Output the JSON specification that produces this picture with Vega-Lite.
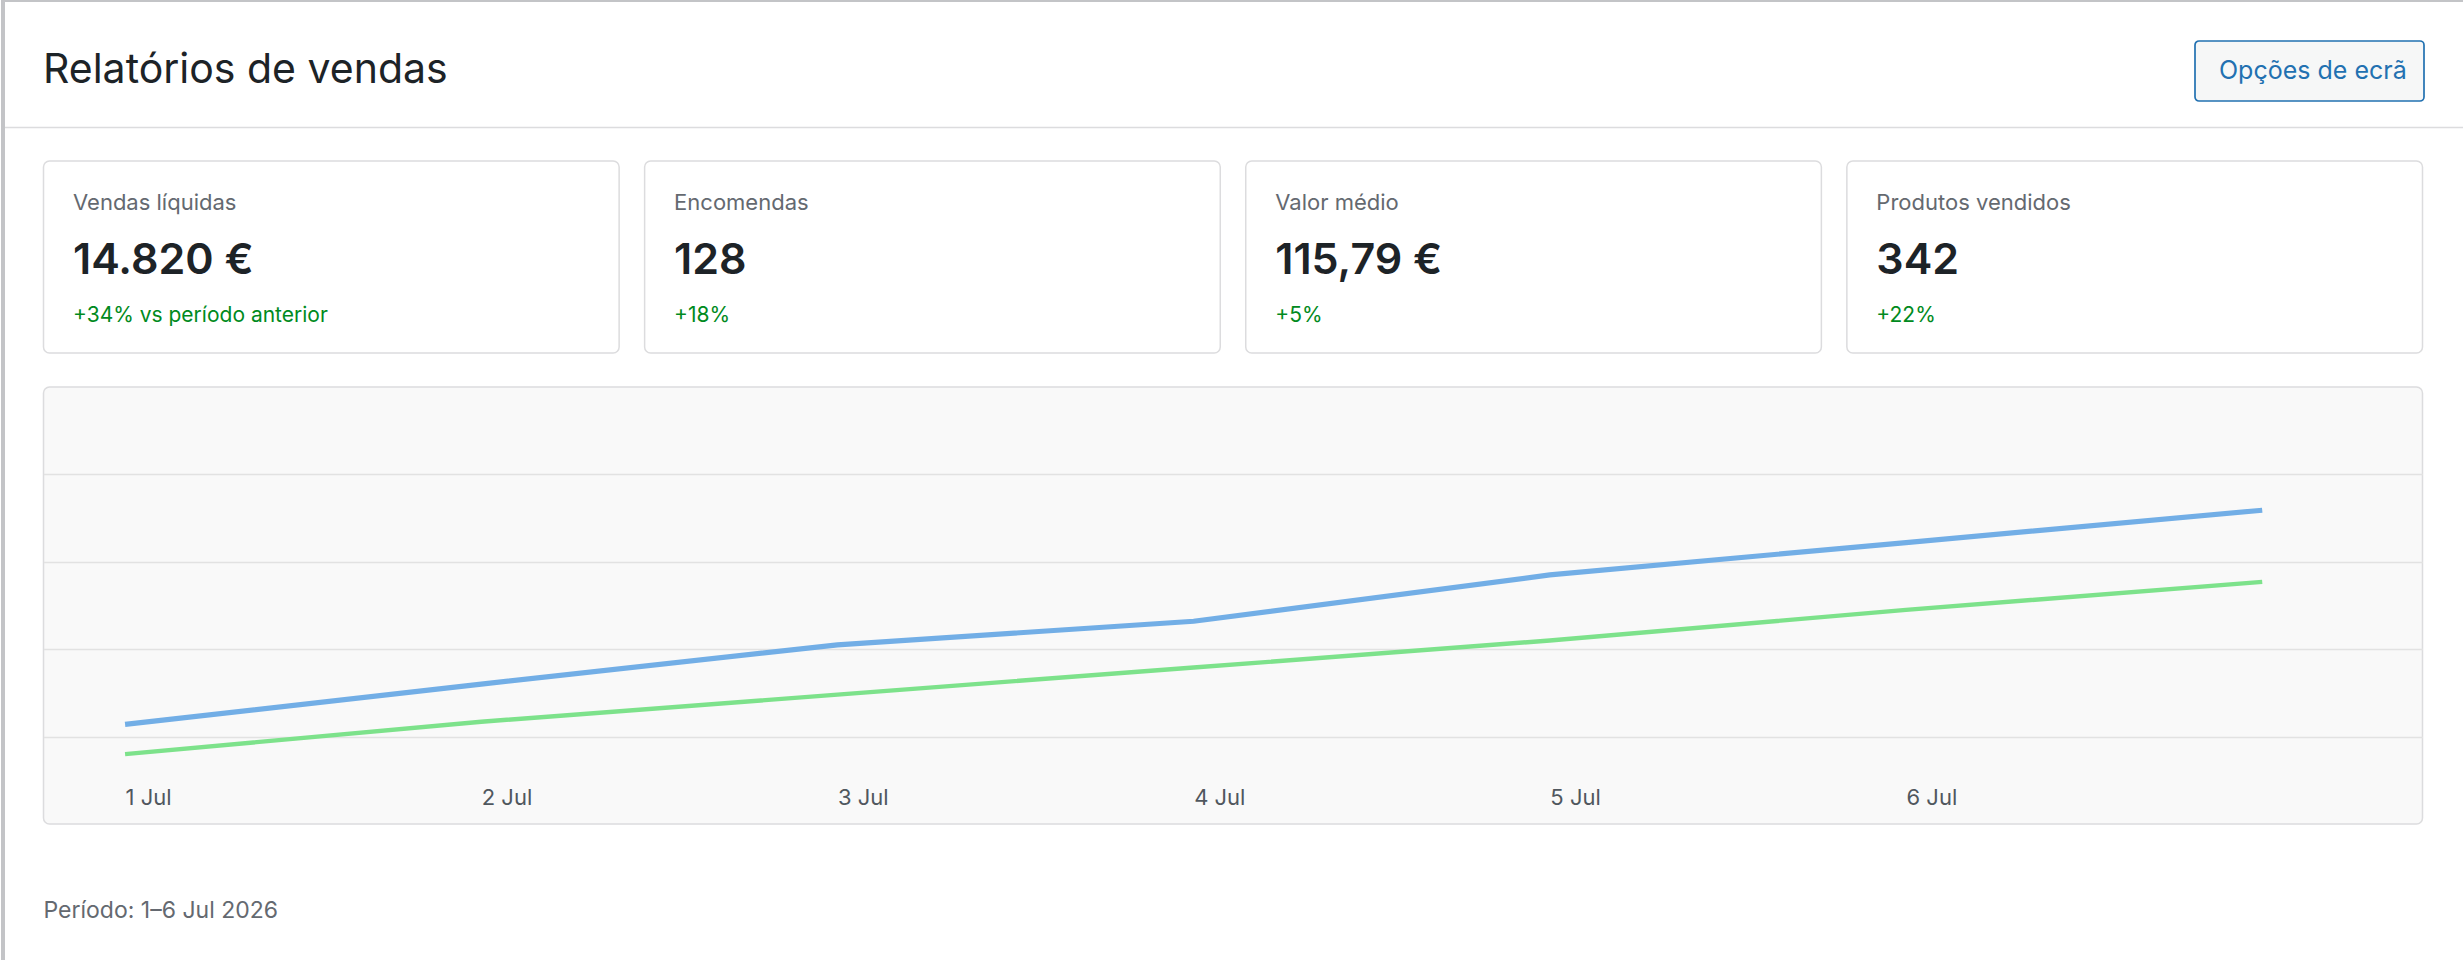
{
  "$schema": "https://vega.github.io/schema/vega-lite/v6.json",
  "description": "Relatórios de vendas: cartões de indicadores e evolução diária",
  "background": "#ffffff",
  "padding": 0,
  "bounds": "flush",
  "spacing": 0,
  "config": {
    "font": "Inter",
    "view": {"stroke": null},
    "legend": {"strokeWidth": 1.7}
  },
  "hconcat": [
    {
      "width": 2,
      "height": 960,
      "data": {"values": [{}]},
      "mark": {"type": "rect", "color": "#c3c4c7"},
      "encoding": {},
      "view": {"fill": "#c3c4c7", "stroke": null}
    },
    {
      "bounds": "flush",
      "spacing": 0,
      "vconcat": [
        {
          "width": 2460,
          "height": 2,
          "data": {"values": [{}]},
          "mark": {"type": "rect", "color": "#c3c4c7"},
          "encoding": {},
          "view": {"fill": "#c3c4c7", "stroke": null}
        },
        {
          "bounds": "flush",
          "spacing": 34,
          "center": true,
          "resolve": {
            "scale": {"color": "independent", "strokeWidth": "independent"},
            "legend": {"color": "independent", "strokeWidth": "independent"}
          },
          "vconcat": [
            {
              "width": 2460,
              "height": 125,
              "view": {"stroke": null},
              "title": {
                "text": "Relatórios de vendas",
                "orient": "top",
                "anchor": "start",
                "frame": "group",
                "offset": -122,
                "dx": 40,
                "baseline": "alphabetic",
                "font": "Inter",
                "fontSize": 41,
                "fontWeight": 400,
                "color": "#1d2327"
              },
              "data": {"values": [{"acao": "Opções de ecrã"}]},
              "mark": {"type": "point", "opacity": 0},
              "encoding": {
                "x": {
                  "datum": 0,
                  "type": "quantitative",
                  "axis": {
                    "labels": false,
                    "ticks": false,
                    "grid": false,
                    "title": null,
                    "domainColor": "#dcdcde",
                    "domainWidth": 1.5
                  }
                },
                "color": {
                  "field": "acao",
                  "type": "nominal",
                  "scale": {"range": ["#2271b1"]},
                  "legend": {
                    "orient": "top-right",
                    "offset": 39,
                    "title": null,
                    "padding": 17,
                    "cornerRadius": 4,
                    "fillColor": "#f6f7f7",
                    "strokeColor": "#2271b1",
                    "symbolSize": 0,
                    "symbolOpacity": 0,
                    "symbolStrokeWidth": 0,
                    "labelOffset": -18,
                    "labelLimit": 0,
                    "labelFont": "Inter",
                    "labelFontSize": 25,
                    "labelColor": "#2271b1"
                  }
                }
              }
            },
            {
              "width": 2379,
              "height": 192,
              "view": {"stroke": null},
              "data": {
                "values": [
                  {"metrica": "Vendas líquidas", "valor": "14.820 €", "variacao": "+34% vs período anterior"},
                  {"metrica": "Encomendas", "valor": "128", "variacao": "+18%"},
                  {"metrica": "Valor médio", "valor": "115,79 €", "variacao": "+5%"},
                  {"metrica": "Produtos vendidos", "valor": "342", "variacao": "+22%"}
                ]
              },
              "encoding": {
                "x": {
                  "field": "metrica",
                  "type": "nominal",
                  "sort": null,
                  "scale": {"paddingInner": 0.0424, "paddingOuter": 0},
                  "axis": null
                }
              },
              "layer": [
                {
                  "mark": {
                    "type": "rect",
                    "fill": "#ffffff",
                    "stroke": "#dcdcde",
                    "strokeWidth": 1.5,
                    "cornerRadius": 6
                  }
                },
                {
                  "mark": {
                    "type": "text",
                    "align": "left",
                    "baseline": "middle",
                    "dx": 29.5,
                    "font": "Inter",
                    "fontSize": 22,
                    "color": "#646970"
                  },
                  "encoding": {
                    "x": {"field": "metrica", "type": "nominal", "sort": null, "bandPosition": 0},
                    "y": {
                      "datum": "rotulo",
                      "type": "nominal",
                      "scale": {"type": "point", "domain": ["rotulo", "valor", "variacao"], "padding": 0.7, "align": 0.53},
                      "axis": null
                    },
                    "text": {"field": "metrica"}
                  }
                },
                {
                  "mark": {
                    "type": "text",
                    "align": "left",
                    "baseline": "middle",
                    "dx": 29.5,
                    "dy": 2,
                    "font": "Inter",
                    "fontSize": 43,
                    "fontWeight": 600,
                    "color": "#1d2327"
                  },
                  "encoding": {
                    "x": {"field": "metrica", "type": "nominal", "sort": null, "bandPosition": 0},
                    "y": {"datum": "valor", "type": "nominal"},
                    "text": {"field": "valor"}
                  }
                },
                {
                  "mark": {
                    "type": "text",
                    "align": "left",
                    "baseline": "middle",
                    "dx": 29.5,
                    "font": "Inter",
                    "fontSize": 21,
                    "color": "#008a20"
                  },
                  "encoding": {
                    "x": {"field": "metrica", "type": "nominal", "sort": null, "bandPosition": 0},
                    "y": {"datum": "variacao", "type": "nominal"},
                    "text": {"field": "variacao"}
                  }
                }
              ]
            },
            {
              "width": 2379,
              "height": 437,
              "view": {"fill": "#f9f9f9", "stroke": "#dcdcde", "strokeWidth": 1.5, "cornerRadius": 6},
              "title": {
                "text": "Período: 1–6 Jul 2026",
                "orient": "bottom",
                "anchor": "start",
                "frame": "group",
                "offset": 93.7,
                "baseline": "alphabetic",
                "font": "Inter",
                "fontSize": 23,
                "fontWeight": 400,
                "color": "#646970"
              },
              "data": {
                "values": [
                  {"dia": 1, "serie": "Período atual", "valor": 1140},
                  {"dia": 2, "serie": "Período atual", "valor": 1600},
                  {"dia": 3, "serie": "Período atual", "valor": 2050},
                  {"dia": 4, "serie": "Período atual", "valor": 2320},
                  {"dia": 5, "serie": "Período atual", "valor": 2850},
                  {"dia": 6, "serie": "Período atual", "valor": 3220},
                  {"dia": 7, "serie": "Período atual", "valor": 3590},
                  {"dia": 1, "serie": "Período anterior", "valor": 800},
                  {"dia": 2, "serie": "Período anterior", "valor": 1170},
                  {"dia": 3, "serie": "Período anterior", "valor": 1480},
                  {"dia": 4, "serie": "Período anterior", "valor": 1790},
                  {"dia": 5, "serie": "Período anterior", "valor": 2100},
                  {"dia": 6, "serie": "Período anterior", "valor": 2450},
                  {"dia": 7, "serie": "Período anterior", "valor": 2770}
                ]
              },
              "mark": {"type": "line"},
              "encoding": {
                "x": {
                  "field": "dia",
                  "type": "quantitative",
                  "scale": {"domain": [0.771, 7.45], "nice": false, "zero": false},
                  "axis": {
                    "values": [1, 2, 3, 4, 5, 6],
                    "labelExpr": "datum.value + ' Jul'",
                    "grid": false,
                    "ticks": false,
                    "tickSize": 0,
                    "domain": false,
                    "labelAlign": "left",
                    "labelBaseline": "alphabetic",
                    "labelPadding": -19.7,
                    "labelFont": "Inter",
                    "labelFontSize": 22,
                    "labelColor": "#50575e",
                    "labelFlush": false,
                    "labelOverlap": false,
                    "title": null
                  }
                },
                "y": {
                  "field": "valor",
                  "type": "quantitative",
                  "scale": {"domain": [0, 5000], "nice": false},
                  "axis": {
                    "values": [1000, 2000, 3000, 4000],
                    "grid": true,
                    "gridColor": "#e2e2e2",
                    "gridWidth": 1.5,
                    "labels": false,
                    "ticks": false,
                    "domain": false,
                    "title": null
                  }
                },
                "color": {
                  "field": "serie",
                  "type": "nominal",
                  "scale": {"domain": ["Período atual", "Período anterior"], "range": ["#72aee6", "#7de28b"]},
                  "legend": null
                },
                "strokeWidth": {
                  "field": "serie",
                  "type": "nominal",
                  "scale": {"domain": ["Período atual", "Período anterior"], "range": [5.2, 4.4]},
                  "legend": null
                }
              }
            }
          ]
        }
      ]
    },
    {
      "width": 2,
      "height": 960,
      "data": {"values": [{}]},
      "mark": {"type": "rect", "color": "#c3c4c7"},
      "encoding": {},
      "view": {"fill": "#c3c4c7", "stroke": null}
    }
  ]
}
